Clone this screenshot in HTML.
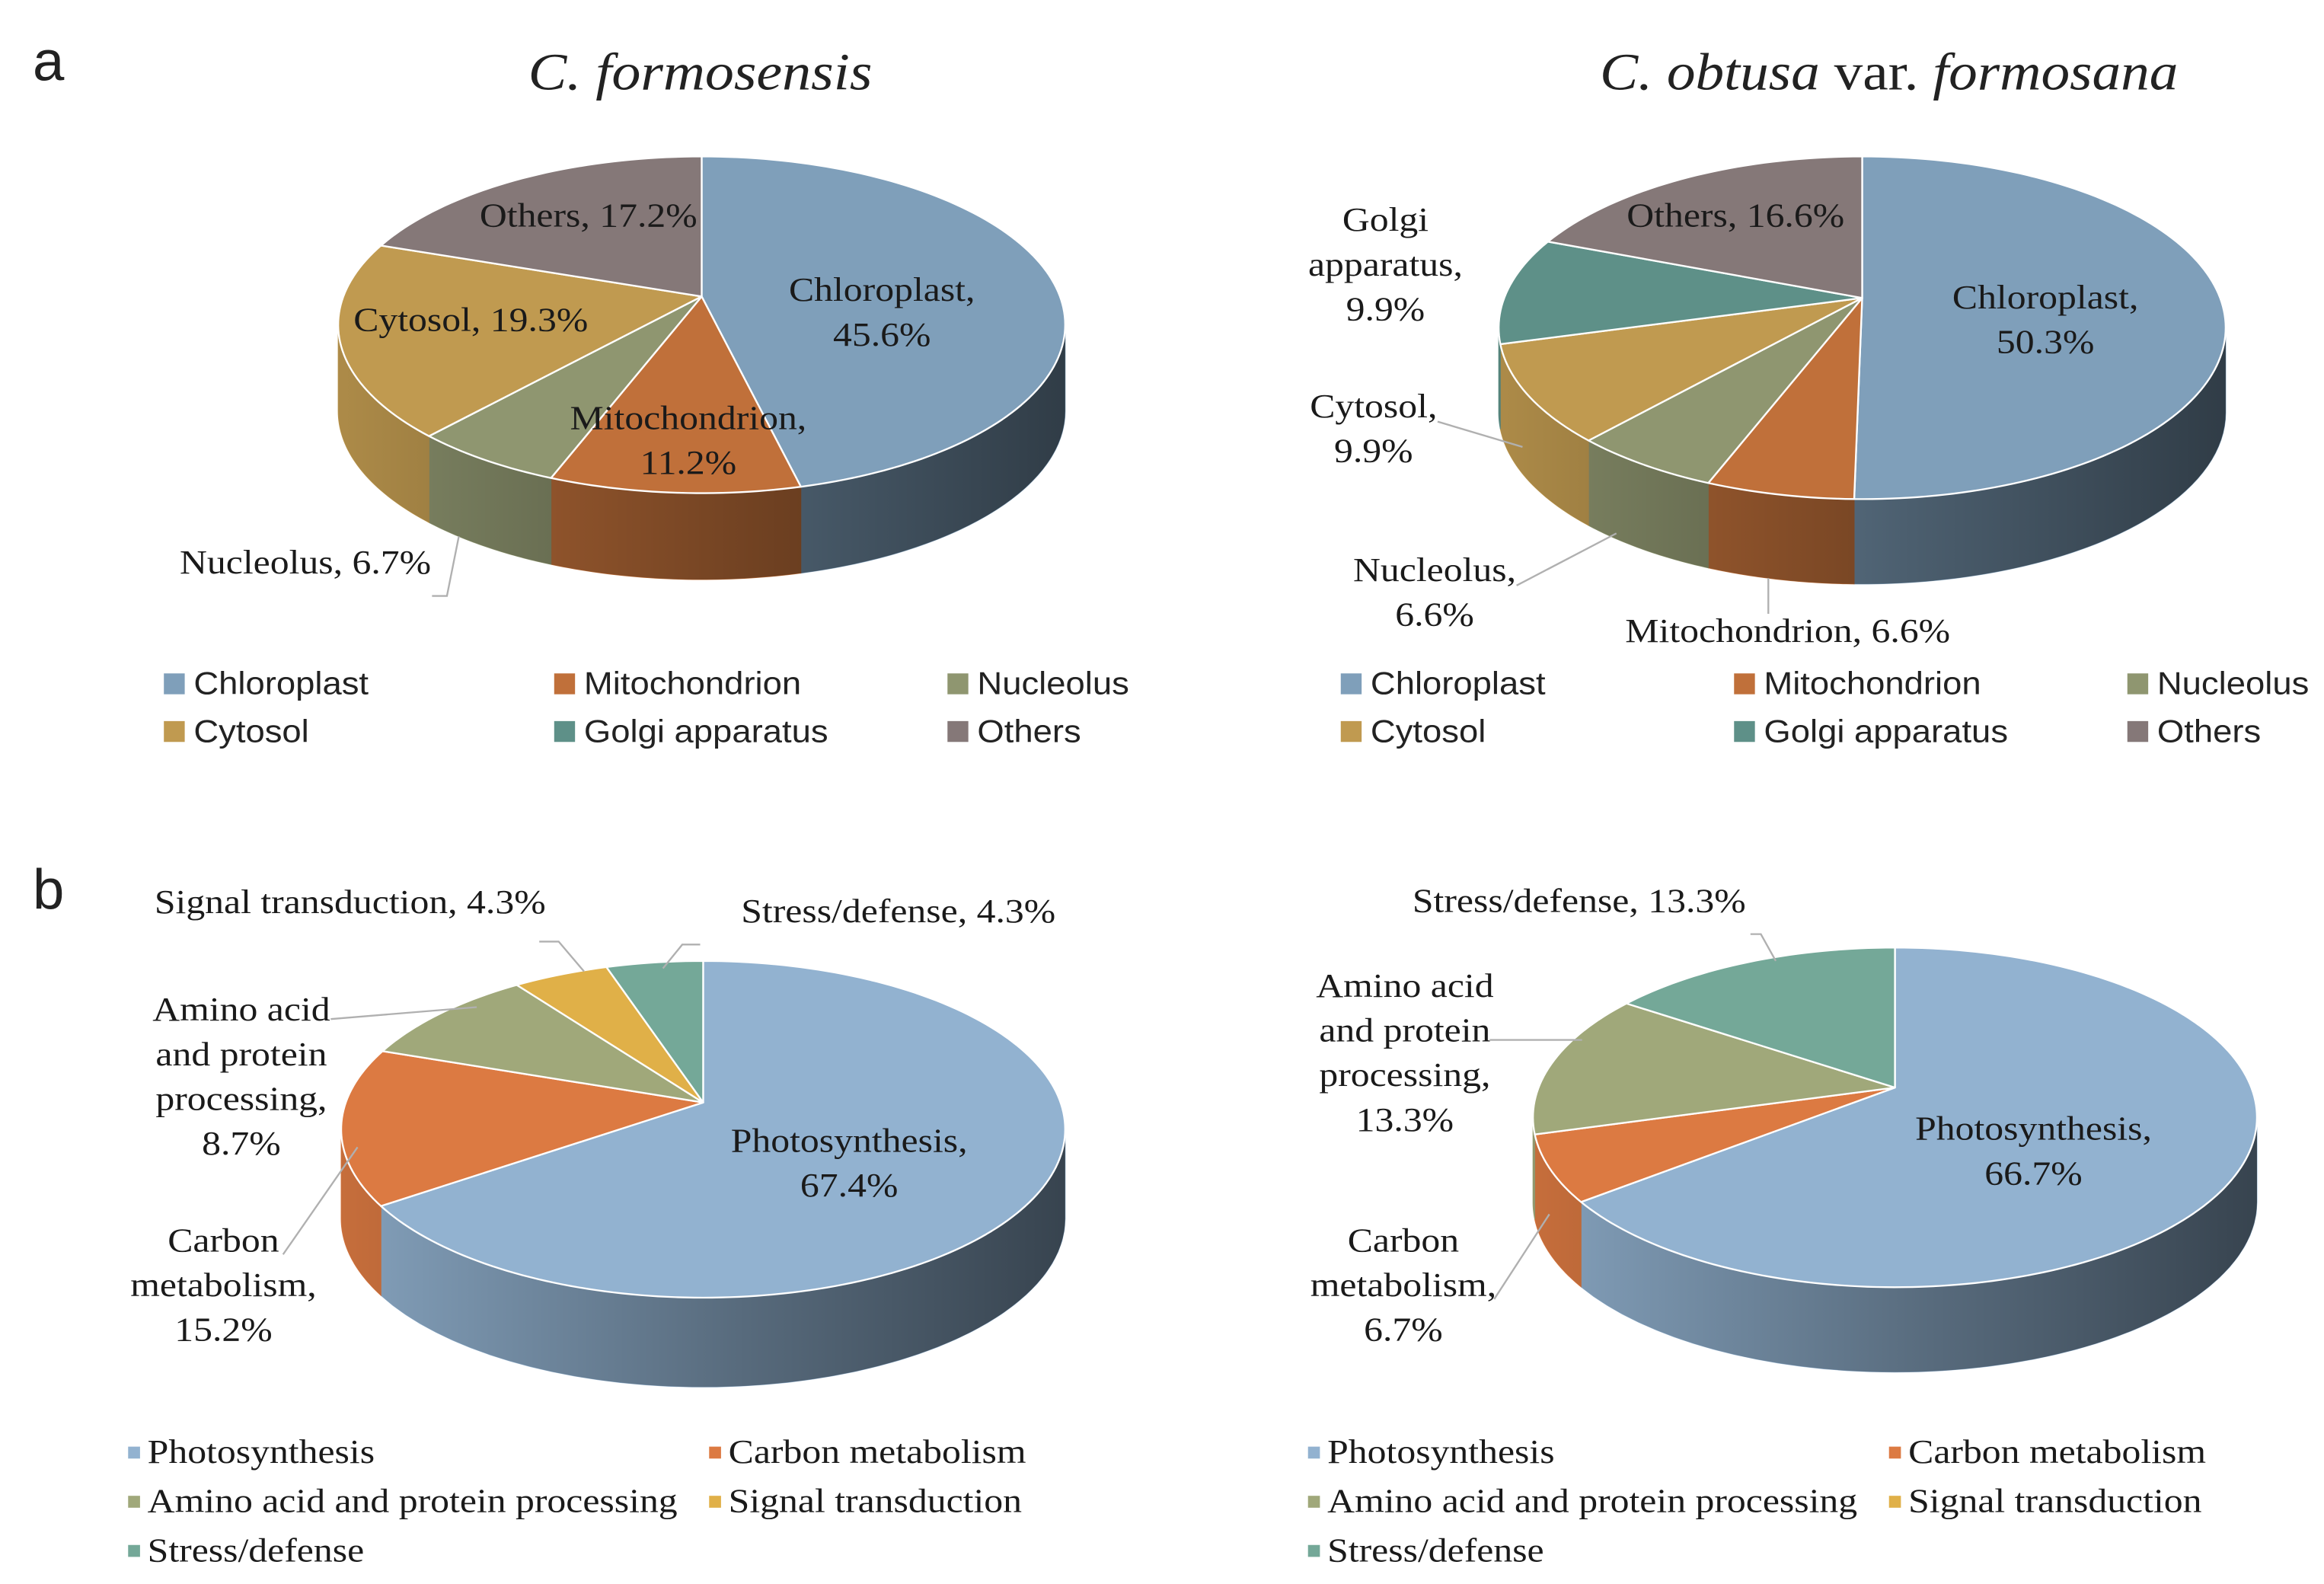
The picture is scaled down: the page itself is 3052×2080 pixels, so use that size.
<!DOCTYPE html>
<html><head><meta charset="utf-8"><style>
html,body{margin:0;padding:0;background:#fff}
svg{display:block}
.sv{font-family:"Liberation Serif",serif;font-size:22.5px;fill:#1a1a1a}
.ss{font-family:"Liberation Sans",sans-serif;font-size:21.5px;fill:#222}
.ti{font-family:"Liberation Serif",serif;font-size:35px;fill:#222}
</style></head><body>
<svg id="fig" width="3052" height="2080" viewBox="0 0 1560 1063.2" preserveAspectRatio="none" xmlns="http://www.w3.org/2000/svg">
<defs>
<linearGradient id="shade" x1="0" x2="1" y1="0" y2="0">
<stop offset="0" stop-color="#000" stop-opacity="0.1"/>
<stop offset="0.55" stop-color="#000" stop-opacity="0.4"/>
<stop offset="1" stop-color="#000" stop-opacity="0.62"/>
</linearGradient>
</defs>
<text class="ss" x="22" y="54" style="font-size:38px">a</text>
<text class="ss" x="22" y="610" style="font-size:38px">b</text>
<text class="ti" x="470" y="60" text-anchor="middle" font-style="italic" transform="translate(470,0) scale(1.11,1) translate(-470,0)">C. formosensis</text>
<text class="ti" x="1268" y="60" text-anchor="middle" transform="translate(1268,0) scale(1.1,1) translate(-1268,0)"><tspan font-style="italic">C. obtusa</tspan> var. <tspan font-style="italic">formosana</tspan></text>
<g id="charts"></g>
<g id="labels"></g>
</svg>
<script>
// ---- data ----
const catsA = ["Chloroplast","Mitochondrion","Nucleolus","Cytosol","Golgi apparatus","Others"];
const valsA1 = [45.6, 11.2, 6.7, 19.3, 0, 17.2];
const valsA2 = [50.3, 6.6, 6.6, 9.9, 9.9, 16.6];
const catsB = ["Photosynthesis","Carbon metabolism","Amino acid and protein processing","Signal transduction","Stress/defense"];
const valsB1 = [67.4, 15.2, 8.7, 4.3, 4.3];
const valsB2 = [66.7, 6.7, 13.3, 0, 13.3];
const colsA = ["#7f9fba","#c0703a","#8f9670","#c09a50","#5e9088","#857878"];
const colsB = ["#92b2d0","#dc7a42","#a0a87a","#e0b048","#74a898"];

const NS="http://www.w3.org/2000/svg";
const charts=document.getElementById('charts');
const labels=document.getElementById('labels');
function mk(tag,attrs,parent){const e=document.createElementNS(NS,tag);for(const k in attrs)e.setAttribute(k,attrs[k]);(parent||charts).appendChild(e);return e;}
const SX=1.13;
function stretch(x,f){return 'translate('+x+',0) scale('+f+',1) translate('+(-x)+',0)';}

function pie(name,vals,cols,cats,g){
  const total=vals.reduce((a,b)=>a+b,0);
  const grp=mk('g',{});
  
  
  const pt=(t,dy)=>[g.cx+g.rx*Math.sin(t), g.cy-g.ry*Math.cos(t)+(dy||0)];
  let acc=0; const segs=[];
  vals.forEach((v,i)=>{const a=acc/total*2*Math.PI; acc+=v; const b=acc/total*2*Math.PI; segs.push([a,b,i]);});
  const sideG=mk('g',{},grp);
  segs.forEach(([a,b,i])=>{
    const lo=Math.max(a,Math.PI/2), hi=Math.min(b,Math.PI*1.5);
    if(hi<=lo||vals[i]<=0) return;
    let d='';const n=40;
    for(let k=0;k<=n;k++){const p=pt(lo+(hi-lo)*k/n);d+=(k?'L':'M')+p[0].toFixed(2)+' '+p[1].toFixed(2);}
    for(let k=n;k>=0;k--){const p=pt(lo+(hi-lo)*k/n,g.d);d+='L'+p[0].toFixed(2)+' '+p[1].toFixed(2);}
    const s=mk('path',{d:d+'Z',fill:cols[i],stroke:cols[i],'stroke-width':0.5},sideG);
    
    
  });
  let d='';const n=80;
  for(let k=0;k<=n;k++){const p=pt(Math.PI/2+Math.PI*k/n);d+=(k?'L':'M')+p[0].toFixed(2)+' '+p[1].toFixed(2);}
  for(let k=n;k>=0;k--){const p=pt(Math.PI/2+Math.PI*k/n,g.d);d+='L'+p[0].toFixed(2)+' '+p[1].toFixed(2);}
  mk('path',{d:d+'Z',fill:'url(#shade)'},grp);
  segs.forEach(([a,b,i])=>{
    if(vals[i]<=0) return;
    let d='M'+g.ax+' '+g.ay; const n=Math.max(6,Math.ceil((b-a)*40));
    for(let k=0;k<=n;k++){const p=pt(a+(b-a)*k/n);d+='L'+p[0].toFixed(2)+' '+p[1].toFixed(2);}
    const s=mk('path',{d:d+'Z',fill:cols[i],stroke:'#fff','stroke-width':1.2,'stroke-linejoin':'round'},grp);
    
    
  });
}
pie('pie-a-formosensis',valsA1,colsA,catsA,{cx:471,cy:218,rx:244,ry:113,ax:471,ay:199,d:58});
pie('pie-a-obtusa',valsA2,colsA,catsA,{cx:1250,cy:220,rx:244,ry:115,ax:1250,ay:200,d:57});
pie('pie-b-formosensis',valsB1,colsB,catsB,{cx:472,cy:758,rx:243,ry:113,ax:472,ay:740,d:60});
pie('pie-b-obtusa',valsB2,colsB,catsB,{cx:1272,cy:750,rx:243,ry:114,ax:1272,ay:730,d:57});

function txt(name,lines,x,y,cls,anchor,lh){
  const t=mk('text',{x:x,y:y,class:cls,'text-anchor':anchor||'middle',transform:stretch(x,SX)},labels);
  
  
  lines.forEach((l,k)=>{const s=mk('tspan',{x:x,y:y+k*(lh||30)},t);s.textContent=l;});
}
function line(pts){mk('polyline',{points:pts,fill:'none',stroke:'#b0b0b0','stroke-width':1.2},labels);}
const pct=v=>v.toFixed(1)+'%';
txt('label-others',['Others, '+pct(valsA1[5])],395,152,'sv');
txt('label-chloroplast',['Chloroplast,',pct(valsA1[0])],592,202,'sv');
txt('label-cytosol',['Cytosol, '+pct(valsA1[3])],316,222,'sv');
txt('label-mitochondrion',['Mitochondrion,',pct(valsA1[1])],462,288,'sv');
txt('label-nucleolus',['Nucleolus, '+pct(valsA1[2])],205,385,'sv');
line('290,400 300,400 308,360');
txt('label-golgi',['Golgi','apparatus,',pct(valsA2[4])],930,155,'sv');
txt('label-others-2',['Others, '+pct(valsA2[5])],1165,152,'sv');
txt('label-chloroplast-2',['Chloroplast,',pct(valsA2[0])],1373,207,'sv');
txt('label-cytosol-2',['Cytosol,',pct(valsA2[3])],922,280,'sv');
line('965,283 1022,300');
txt('label-nucleolus-2',['Nucleolus,',pct(valsA2[2])],963,390,'sv');
line('1018,393 1085,358');
txt('label-mitochondrion-2',['Mitochondrion, '+pct(valsA2[1])],1200,431,'sv');
line('1187,412 1187,388');
txt('label-signal',['Signal transduction, '+pct(valsB1[3])],235,613,'sv');
line('362,632 375,632 392,652');
txt('label-stress',['Stress/defense, '+pct(valsB1[4])],603,619,'sv');
line('470,634 458,634 445,650');
txt('label-amino',['Amino acid','and protein','processing,',pct(valsB1[2])],162,685,'sv');
line('222,684 320,676');
txt('label-photosynthesis',['Photosynthesis,',pct(valsB1[0])],570,773,'sv');
txt('label-carbon',['Carbon','metabolism,',pct(valsB1[1])],150,840,'sv');
line('190,842 240,770');
txt('label-stress-2',['Stress/defense, '+pct(valsB2[4])],1060,612,'sv');
line('1175,627 1182,627 1192,645');
txt('label-amino-2',['Amino acid','and protein','processing,',pct(valsB2[2])],943,669,'sv');
line('1000,698 1062,698');
txt('label-photosynthesis-2',['Photosynthesis,',pct(valsB2[0])],1365,765,'sv');
txt('label-carbon-2',['Carbon','metabolism,',pct(valsB2[1])],942,840,'sv');
line('1003,872 1040,815');

function legend(name,cats,cols,x0,colx,y0,dy,ncol,cls,sq,tx,f){
  const g=mk('g',{},labels);
  
  
  cats.forEach((c,i)=>{
    const x=x0+colx[i%ncol], y=y0+Math.floor(i/ncol)*dy;
    const r=mk('rect',{x:x,y:y-sq/2-7,width:sq,height:sq,fill:cols[i]},g);
    
    
    const t=mk('text',{x:x+tx,y:y,class:cls,transform:stretch(x+tx,f)},g);
    
    
    t.textContent=c;
  });
}
legend('legend-a-left',catsA,colsA,110,[0,262,526],466,32,3,'ss',14,20,1.08);
legend('legend-a-right',catsA,colsA,900,[0,264,528],466,32,3,'ss',14,20,1.08);
legend('legend-b-left',catsB,colsB,86,[0,390],982,33,2,'sv',8,13,1.13);
legend('legend-b-right',catsB,colsB,878,[0,390],982,33,2,'sv',8,13,1.13);
</script>
</body></html>
